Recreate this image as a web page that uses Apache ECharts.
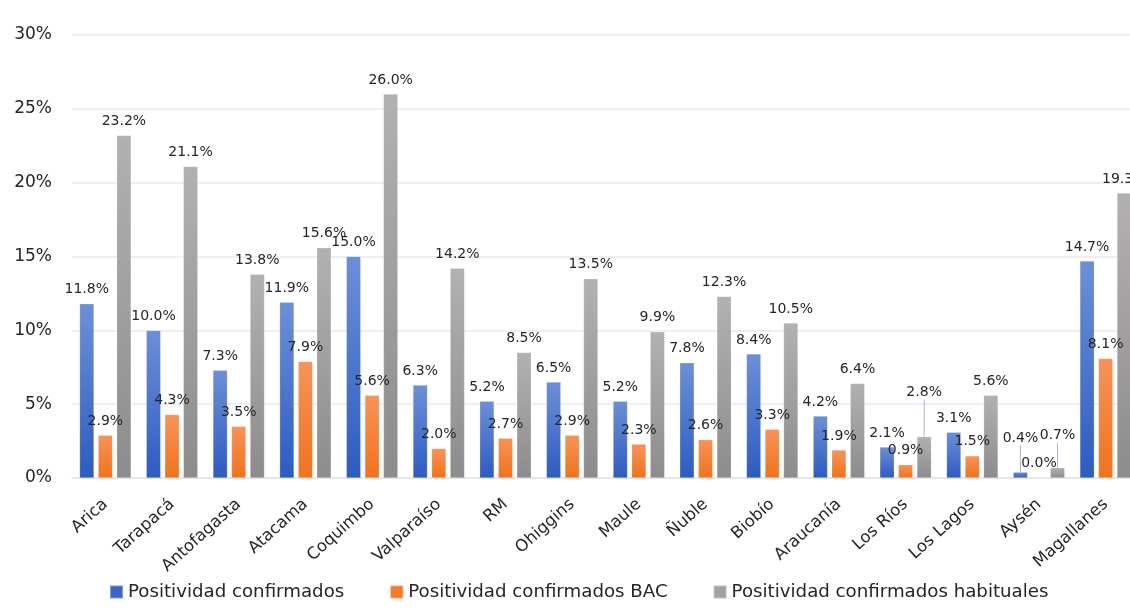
<!DOCTYPE html>
<html>
<head>
<meta charset="utf-8">
<script src="https://cdn.jsdelivr.net/npm/echarts@6/dist/echarts.min.js"></script>
<style>
  html, body { margin: 0; padding: 0; background: #ffffff; overflow: hidden; }
  /* the plot runs slightly past the right edge of the page, clipping the last bar */
  #chart { width: 1139px; height: 609px; }
</style>
</head>
<body>
<div id="chart"></div>
<script>
// Regions of Chile
const regions = ['Arica', 'Tarapacá', 'Antofagasta', 'Atacama', 'Coquimbo', 'Valparaíso', 'RM',
  'Ohiggins', 'Maule', 'Ñuble', 'Biobío', 'Araucanía', 'Los Ríos', 'Los Lagos', 'Aysén', 'Magallanes'];

// Positivity (%) per region
const positividadConfirmados = [11.8, 10.0, 7.3, 11.9, 15.0, 6.3, 5.2, 6.5, 5.2, 7.8, 8.4, 4.2, 2.1, 3.1, 0.4, 14.7];
const positividadBAC = [2.9, 4.3, 3.5, 7.9, 5.6, 2.0, 2.7, 2.9, 2.3, 2.6, 3.3, 1.9, 0.9, 1.5, 0.0, 8.1];
const positividadHabituales = [23.2, 21.1, 13.8, 15.6, 26.0, 14.2, 8.5, 13.5, 9.9, 12.3, 10.5, 6.4, 2.8, 5.6, 0.7, 19.3];

const seriesNames = ['Positividad confirmados', 'Positividad confirmados BAC', 'Positividad confirmados habituales'];

// Y axis range and step (percent)
const yMin = 0, yMax = 30, yStep = 5;

// Labels lifted above crowded bars, keyed by "series:index"
const liftedLabels = { '2:12': -30, '0:14': -20, '2:14': -18 };

const FONT = 'DejaVu Sans';
const TEXT = '#262626';

function grad(top, bottom) {
  return { type: 'linear', x: 0, y: 0, x2: 0, y2: 1,
    colorStops: [{ offset: 0, color: top }, { offset: 1, color: bottom }] };
}

const palette = [
  { fill: grad('#6d8fd6', '#2d5cc0'), legend: '#3b66c6' },
  { fill: grad('#f6935a', '#ef731d'), legend: '#f27a2a' },
  { fill: grad('#b3b0b1', '#8d8c8d'), legend: '#a3a2a3' }
];

function makeSeries(idx, values) {
  return {
    name: seriesNames[idx],
    type: 'bar',
    barWidth: 14.5,
    barGap: '28%',
    data: values.map(function (v, i) {
      const item = { value: v };
      if (liftedLabels[idx + ':' + i] !== undefined) {
        item.labelLine = { show: true };
      }
      return item;
    }),
    itemStyle: { color: palette[idx].fill, borderColor: 'rgba(255,255,255,0.35)', borderWidth: 0.6 },
    label: {
      show: true,
      position: 'top',
      distance: 7,
      color: TEXT,
      fontFamily: FONT,
      fontSize: 14,
      formatter: function (p) { return p.value.toFixed(1) + '%'; }
    },
    labelLine: { show: false, lineStyle: { color: '#aab6cf', width: 1 } },
    labelLayout: function (p) {
      const dy = liftedLabels[p.seriesIndex + ':' + p.dataIndex];
      return dy !== undefined ? { dy: dy } : {};
    }
  };
}

const chart = echarts.init(document.getElementById('chart'), null, { renderer: 'canvas' });

chart.setOption({
  backgroundColor: '#ffffff',
  animation: false,
  grid: { left: 72, top: 35, right: 0, bottom: 131, containLabel: false },
  legend: {
    top: 578,
    left: 104,
    itemWidth: 13,
    itemHeight: 13,
    itemGap: 45,
    icon: 'rect',
    textStyle: { color: TEXT, fontFamily: FONT, fontSize: 18.2 },
    data: seriesNames.map(function (n, i) {
      return { name: n, itemStyle: { color: palette[i].legend } };
    })
  },
  xAxis: {
    type: 'category',
    data: regions,
    axisLine: { show: true, lineStyle: { color: '#e3e3ea', width: 1.5 } },
    axisTick: { show: false },
    axisLabel: {
      rotate: 42,
      margin: 24,
      interval: 0,
      color: TEXT,
      fontFamily: FONT,
      fontSize: 16.5
    }
  },
  yAxis: {
    type: 'value',
    min: yMin,
    max: yMax,
    interval: yStep,
    axisLine: { show: false },
    axisTick: { show: false },
    splitLine: { lineStyle: { color: '#e8e8f0', width: 1.5 } },
    axisLabel: {
      margin: 20,
      color: TEXT,
      fontFamily: FONT,
      fontSize: 17,
      formatter: function (v) { return v + '%'; }
    }
  },
  series: [
    makeSeries(0, positividadConfirmados),
    makeSeries(1, positividadBAC),
    makeSeries(2, positividadHabituales)
  ]
});
</script>
</body>
</html>
